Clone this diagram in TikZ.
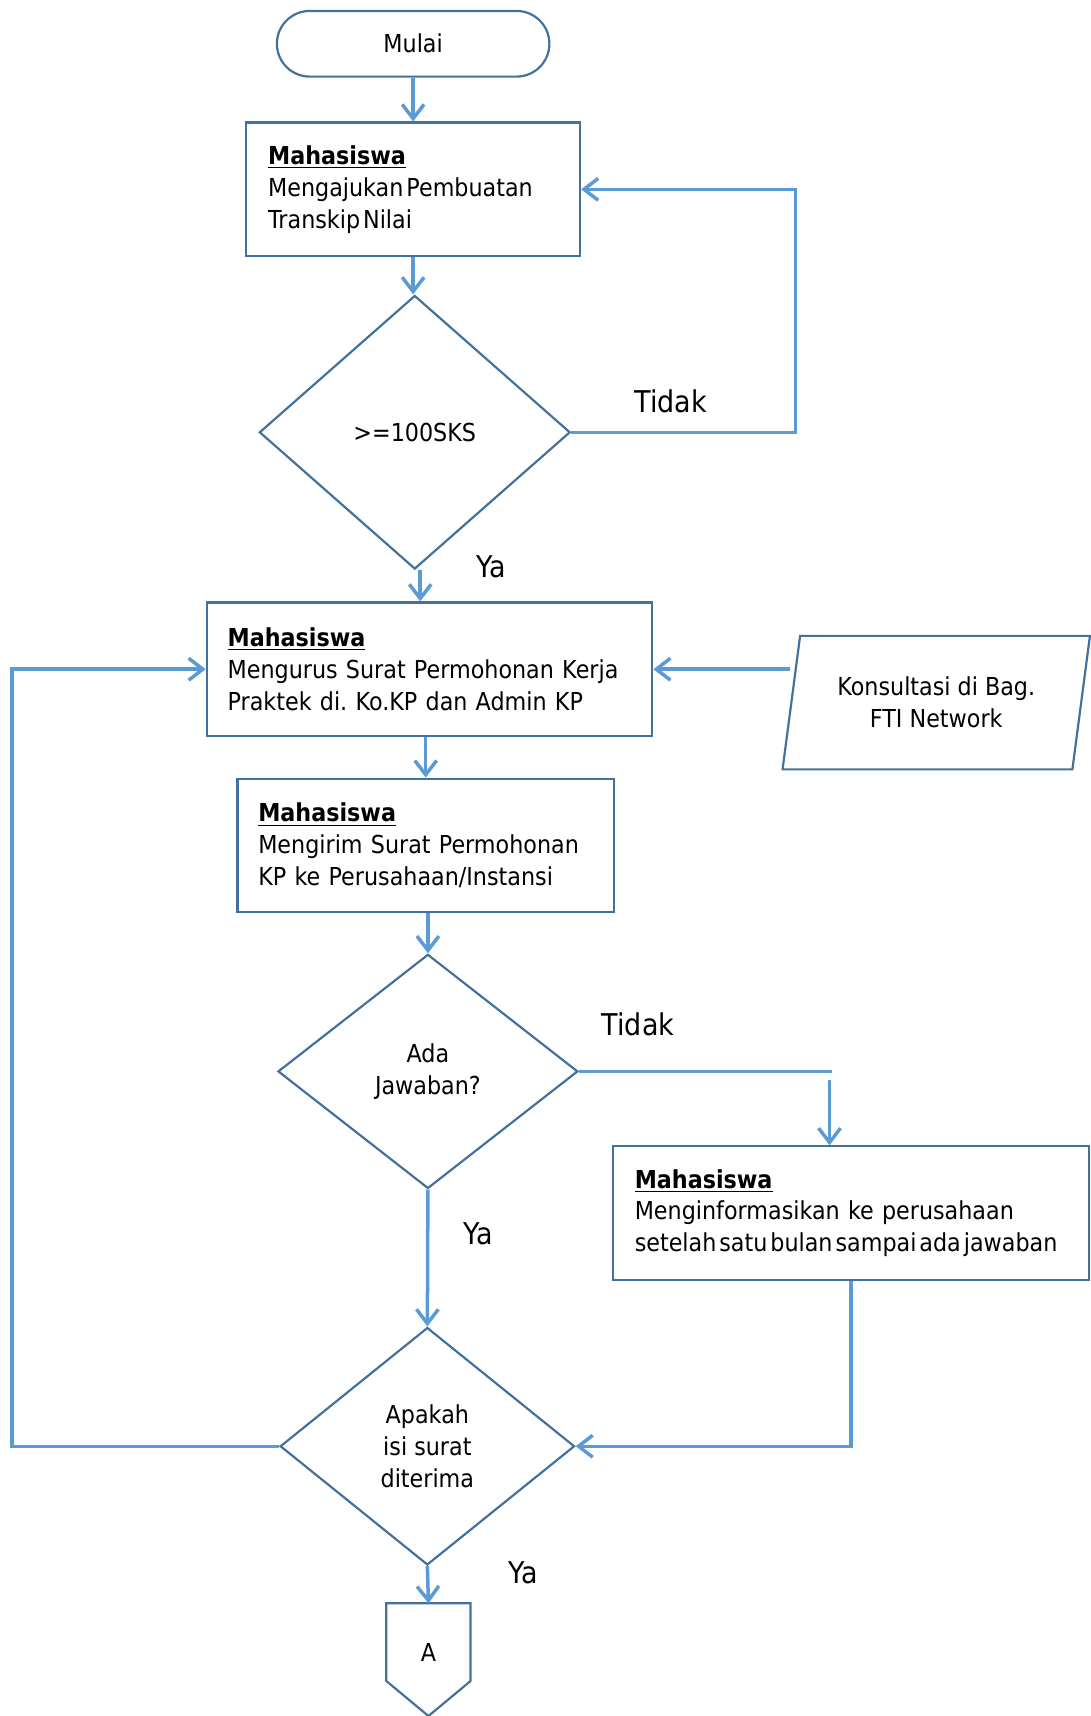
\documentclass[tikz,border=0pt]{standalone}
\usepackage{fontspec}
\setmainfont{DejaVu Sans}[FakeStretch=0.9]
\usetikzlibrary{arrows.meta}
\usetikzlibrary{shapes.geometric}
\definecolor{lineblue}{HTML}{5B9BD5}
\definecolor{shapeblue}{HTML}{41719C}
\tikzset{
  shapeline/.style={draw=shapeblue, line width=1pt},
  procbox/.style={shapeline, rectangle, minimum height=61pt, inner xsep=10pt, inner ysep=0pt, align=left},
  decision/.style={shapeline, diamond, inner sep=0pt, align=center},
  flow/.style={draw=lineblue, line width=1.6pt},
  flowarrow/.style={flow, -{Straight Barb[length=6.5pt,width=10pt]}},
  lbl/.style={font=\fontsize{13.7}{16}\selectfont}
}
\newcommand{\boxhead}{\underline{\textbf{Mahasiswa}}}
\newcommand{\tightsp}{\spaceskip=0.12em plus 0.05em\relax}
\frenchspacing

\begin{document}
\begin{tikzpicture}[x=.5pt,y=-.5pt,font=\fontsize{11.3}{14.6}\selectfont]
\useasboundingbox (0,0) rectangle (996,1568);

% shapes
\node[shapeline, rectangle, rounded corners=15pt, minimum width=124.5pt, minimum height=30pt] (mulai) at (377.5,40) {\raisebox{-1.5pt}{Mulai}};
\node[procbox, text width=132.5pt] (ajukan) at (377.5,173) {\boxhead\\{\tightsp Mengajukan Pembuatan}\\{\tightsp Transkip Nilai}};
\node[decision, minimum width=142pt, minimum height=125pt] (sks) at (379,395) {{\tightsp >=100SKS}};
\node[procbox, inner xsep=9.5pt, text width=184.5pt] (urus) at (392.5,611.5) {\boxhead\\Mengurus Surat Permohonan Kerja\\Praktek di. Ko.KP dan Admin KP};
\node[shapeline, trapezium, trapezium left angle=76, trapezium right angle=104, trapezium stretches=true, minimum width=140.5pt, minimum height=61pt, align=center, inner sep=0pt] (konsul) at (855.5,642) {Konsultasi di Bag.\\FTI Network};
\node[procbox, inner xsep=9.5pt, text width=153pt] (kirim) at (389,772.5) {\boxhead\\Mengirim Surat Permohonan\\KP ke Perusahaan/Instansi};
\node[decision, minimum width=137pt, minimum height=107pt] (jawab) at (391,979) {Ada\\Jawaban?};
\node[procbox, text width=197.5pt] (info) at (777.5,1108.5) {\boxhead\\Menginformasikan ke perusahaan\\{\tightsp setelah satu bulan sampai ada jawaban}};
\node[decision, minimum width=134.5pt, minimum height=108.5pt] (terima) at (390.5,1321.5) {Apakah\\isi surat\\diterima};
\node (conA) at (391.5,1510) {A};
\draw[shapeline] (353,1465) -- (430,1465) -- (430,1536) -- (391.5,1568) -- (353,1536) -- cycle;

% labels
\node[lbl] (tidak1) at (613,367) {Tidak};
\node[lbl] (ya1) at (449,518) {Ya};
\node[lbl] (tidak2) at (583,936) {Tidak};
\node[lbl] (ya2) at (437,1127) {Ya};
\node[lbl] (ya3) at (478,1437) {Ya};

% connectors
\coordinate (tidakEnd) at (760,975);
\coordinate (tidakStart) at (758,987);
\coordinate (conTop) at (391.5,1465);
\draw[flowarrow] (mulai.south) -- (ajukan.north);
\draw[flowarrow] (ajukan.south) -- (ajukan.south |- sks.north);
\draw[flowarrow] (sks.east) -- ++(205,0) |- (ajukan.east);
\draw[flowarrow] ([xshift=2.5pt]sks.south) -- ([xshift=2.5pt]sks.south |- urus.north);
\draw[flowarrow] (konsul.west |- urus.east) -- (urus.east);
\draw[flowarrow] (kirim.north |- urus.south) -- (kirim.north);
\draw[flowarrow] (jawab.north |- kirim.south) -- (jawab.north);
\draw[flow] (jawab.east) -- (jawab.east -| tidakEnd);
\draw[flowarrow] (tidakStart) -- (tidakStart |- info.north);
\draw[flowarrow] (jawab.south) -- (terima.north);
\draw[flowarrow] (info.south) |- (terima.east);
\draw[flowarrow] (terima.west) -- ++(-244,0) |- (urus.west);
\draw[flowarrow] (terima.south) -- (conTop);
\end{tikzpicture}
\end{document}
